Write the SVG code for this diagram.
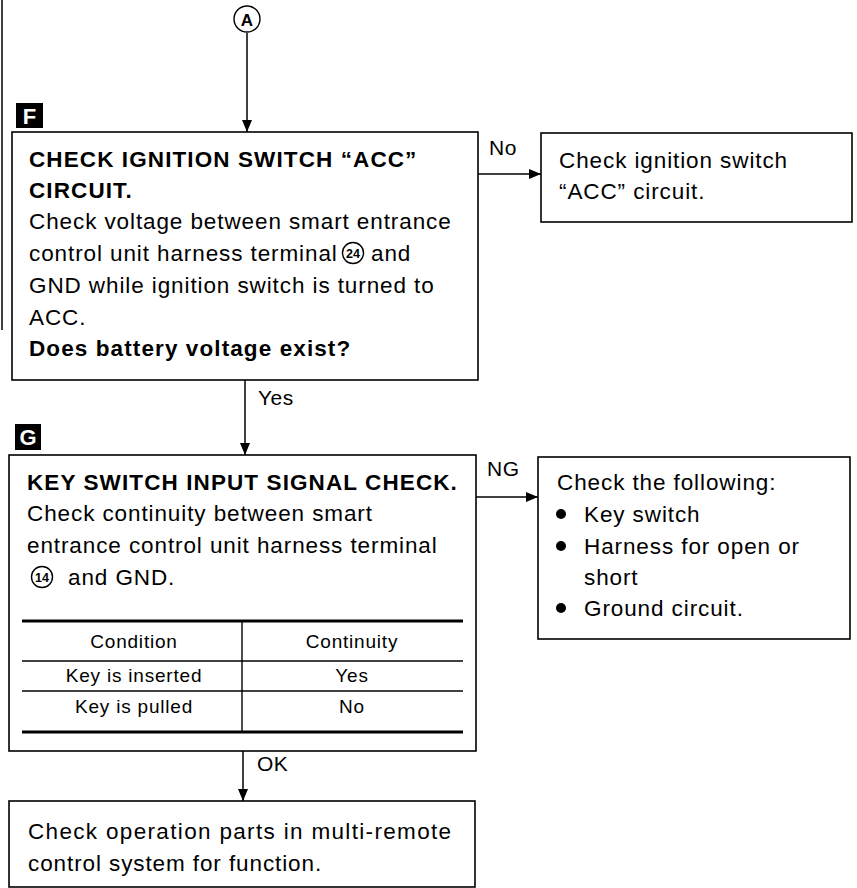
<svg xmlns="http://www.w3.org/2000/svg" width="857" height="888" viewBox="0 0 857 888">
  <defs>
    <marker id="arrow" viewBox="0 0 12 10" refX="12" refY="5" markerWidth="12" markerHeight="10" markerUnits="userSpaceOnUse" orient="auto">
      <path d="M0,0 L12,5 L0,10 Z" fill="#000"/>
    </marker>
  </defs>
  <style>
    .box { fill: #fff; stroke: #000; stroke-width: 1.6; }
    .edge { fill: none; stroke: #000; stroke-width: 1.5; }
    .t { font-family: "Liberation Sans", Arial, Helvetica, sans-serif; font-size: 22.5px; letter-spacing: 0.9px; fill: #000; }
    .b { font-weight: bold; letter-spacing: 1.1px; }
    .s { font-size: 19px; letter-spacing: 0.8px; text-anchor: middle; }
    .lbl { font-size: 21px; letter-spacing: 0.5px; }
    .tag { fill: #000; }
    .tagtxt { font-family: "Liberation Sans", Arial, sans-serif; font-size: 22px; font-weight: bold; fill: #fff; text-anchor: middle; }
    .ring { fill: #fff; stroke: #000; stroke-width: 1.4; }
    .num { font-family: "Liberation Sans", Arial, sans-serif; font-size: 12.5px; font-weight: bold; text-anchor: middle; fill: #000; }
    .thick { stroke: #000; stroke-width: 3; }
    .thin { stroke: #000; stroke-width: 1.4; }
  </style>

  <!-- page margin rule -->
  <line x1="2" y1="0" x2="2" y2="330" class="edge"/>

  <!-- connectors -->
  <g id="connectors">
    <line x1="247" y1="33" x2="247" y2="132" class="edge" marker-end="url(#arrow)"/>
    <line x1="478" y1="174" x2="541" y2="174" class="edge" marker-end="url(#arrow)"/>
    <text x="489" y="155" class="t lbl">No</text>
    <line x1="245" y1="380" x2="245" y2="455" class="edge" marker-end="url(#arrow)"/>
    <text x="258" y="405" class="t lbl">Yes</text>
    <line x1="476" y1="497" x2="538" y2="497" class="edge" marker-end="url(#arrow)"/>
    <text x="487" y="476" class="t lbl">NG</text>
    <line x1="243" y1="751" x2="243" y2="801" class="edge" marker-end="url(#arrow)"/>
    <text x="257" y="771" class="t lbl">OK</text>
  </g>

  <!-- connector from A -->
  <g id="node-A">
    <circle cx="247" cy="19" r="13" class="ring"/>
    <text x="247" y="25.5" class="num" style="font-size:17px">A</text>
  </g>

  <!-- step F -->
  <g id="node-F">
    <rect x="16" y="103" width="27" height="25" class="tag"/>
    <text x="29.5" y="123.5" class="tagtxt">F</text>
    <rect x="12" y="132" width="466" height="248" class="box"/>
    <text x="29" y="167" class="t b">CHECK IGNITION SWITCH “ACC”</text>
    <text x="29" y="198" class="t b">CIRCUIT.</text>
    <text x="29" y="229" class="t">Check voltage between smart entrance</text>
    <text x="29" y="261" class="t">control unit harness terminal</text>
    <circle cx="353" cy="253" r="10.5" class="ring"/>
    <text x="353" y="257.5" class="num">24</text>
    <text x="371" y="261" class="t">and</text>
    <text x="29" y="293" class="t">GND while ignition switch is turned to</text>
    <text x="29" y="325" class="t">ACC.</text>
    <text x="29" y="356" class="t b">Does battery voltage exist?</text>
  </g>

  <!-- F: No branch -->
  <g id="node-F-no">
    <rect x="541" y="133" width="311" height="89" class="box"/>
    <text x="559" y="168" class="t">Check ignition switch</text>
    <text x="559" y="199" class="t">“ACC” circuit.</text>
  </g>

  <!-- step G -->
  <g id="node-G">
    <rect x="15" y="424" width="26" height="26" class="tag"/>
    <text x="28" y="444.5" class="tagtxt">G</text>
    <rect x="9" y="455" width="467" height="296" class="box"/>
    <text x="27" y="490" class="t b">KEY SWITCH INPUT SIGNAL CHECK.</text>
    <text x="27" y="521" class="t">Check continuity between smart</text>
    <text x="27" y="553" class="t">entrance control unit harness terminal</text>
    <circle cx="42" cy="577" r="10.5" class="ring"/>
    <text x="42" y="581.5" class="num">14</text>
    <text x="68" y="585" class="t">and GND.</text>

    <!-- condition table -->
    <line x1="22" y1="621" x2="463" y2="621" class="thick"/>
    <line x1="22" y1="661" x2="463" y2="661" class="thin"/>
    <line x1="22" y1="691" x2="463" y2="691" class="thin"/>
    <line x1="22" y1="732" x2="463" y2="732" class="thick"/>
    <line x1="242" y1="621" x2="242" y2="732" class="thin"/>
    <text x="134" y="648" class="t s">Condition</text>
    <text x="352" y="648" class="t s">Continuity</text>
    <text x="134" y="682" class="t s">Key is inserted</text>
    <text x="352" y="682" class="t s">Yes</text>
    <text x="134" y="713" class="t s">Key is pulled</text>
    <text x="352" y="713" class="t s">No</text>
  </g>

  <!-- G: NG branch -->
  <g id="node-G-ng">
    <rect x="538" y="457" width="312" height="182" class="box"/>
    <text x="557" y="490" class="t">Check the following:</text>
    <circle cx="561" cy="514" r="5"/>
    <text x="584" y="522" class="t">Key switch</text>
    <circle cx="561" cy="546" r="5"/>
    <text x="584" y="554" class="t">Harness for open or</text>
    <text x="584" y="585" class="t">short</text>
    <circle cx="561" cy="608" r="5"/>
    <text x="584" y="616" class="t">Ground circuit.</text>
  </g>

  <!-- G: OK branch -->
  <g id="node-final">
    <rect x="9" y="801" width="466" height="86" class="box"/>
    <text x="28" y="839" class="t" textLength="424" lengthAdjust="spacing">Check operation parts in multi-remote</text>
    <text x="28" y="871" class="t">control system for function.</text>
  </g>
</svg>
